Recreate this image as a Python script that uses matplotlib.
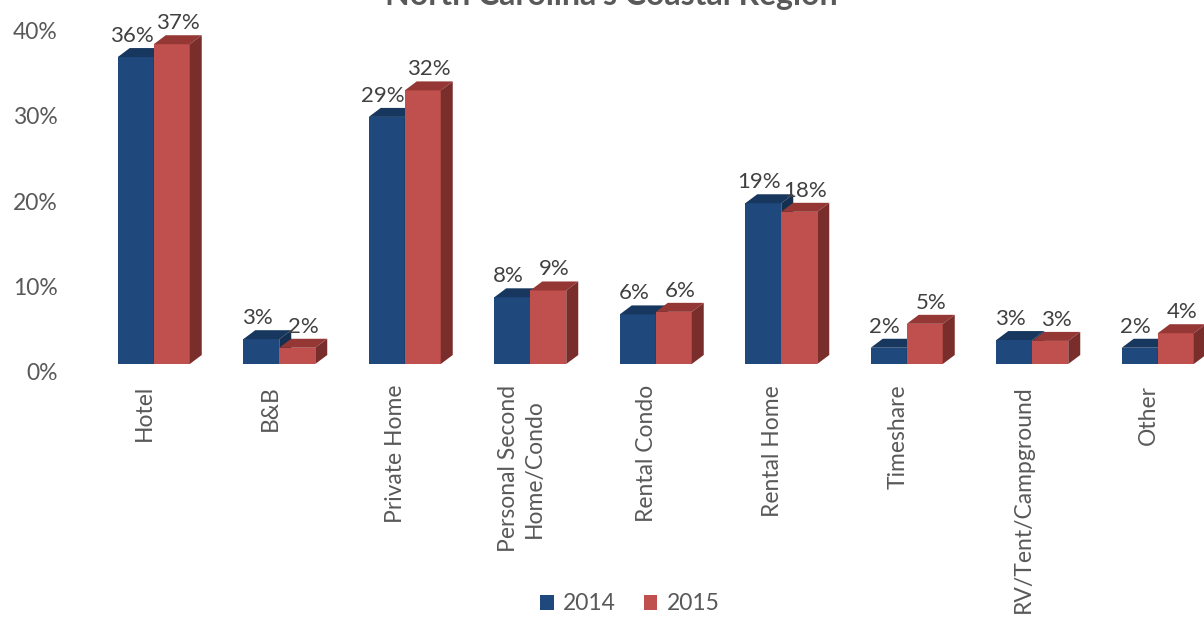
import matplotlib
matplotlib.use("Agg")
import matplotlib.pyplot as plt
from matplotlib.patches import Polygon, Patch
from matplotlib.transforms import ScaledTranslation

plt.rcParams['font.family'] = ['Lato', 'DejaVu Sans']

categories = ['Hotel', 'B&B', 'Private Home', 'Personal Second\nHome/Condo',
              'Rental Condo', 'Rental Home', 'Timeshare', 'RV/Tent/Campground', 'Other']
share_2014 = [35.9, 2.9, 28.9, 7.8, 5.8, 18.8, 1.9, 2.8, 1.9]
share_2015 = [37.4, 1.9, 32.0, 8.6, 6.1, 17.8, 4.7, 2.7, 3.6]
yticks = [0, 10, 20, 30, 40]

# front / top / side shades for the pseudo 3D boxes
blue = ('#1F497D', '#17375E', '#142F50')
red = ('#C0504D', '#943735', '#7A2E2C')

W, H = 1204, 627
fig = plt.figure(figsize=(W / 100, H / 100), dpi=100)

# axes placed in pixels: category pitch 125.5 px, 10% = 85.5 px
left_px, bottom_px, pitch = 91, 263, 125.5
ax = fig.add_axes([left_px / W, bottom_px / H, (W - left_px) / W, 342 / H])
ax.set_xlim(-0.5, -0.5 + (W - left_px) / pitch)
ax.set_ylim(0, 40)

px_x = 1 / pitch          # data units per pixel along x
px_y = 40 / 342           # data units per pixel along y
dx, dy = 12 * px_x, 9 * px_y
bw = 36 * px_x


def box(x0, h, shades):
    front, top, side = shades
    ax.add_patch(Polygon([(x0, 0), (x0 + bw, 0), (x0 + bw, h), (x0, h)],
                         closed=True, fc=front, ec='none', clip_on=False))
    ax.add_patch(Polygon([(x0, h), (x0 + bw, h), (x0 + bw + dx, h + dy), (x0 + dx, h + dy)],
                         closed=True, fc=top, ec='none', clip_on=False))
    ax.add_patch(Polygon([(x0 + bw, 0), (x0 + bw + dx, dy), (x0 + bw + dx, h + dy), (x0 + bw, h)],
                         closed=True, fc=side, ec='none', clip_on=False))


for i, (a, b) in enumerate(zip(share_2014, share_2015)):
    box(i - bw, a, blue)
    box(i, b, red)
    ax.text(i - bw / 2 - 4 * px_x, a + dy + 6 * px_y, f'{a:.0f}%', ha='center',
            va='baseline', fontsize=16, color='#404040', clip_on=False)
    ax.text(i + bw / 2 + 6 * px_x, b + dy + 6 * px_y, f'{b:.0f}%', ha='center',
            va='baseline', fontsize=16, color='#404040', clip_on=False)

for s in ax.spines.values():
    s.set_visible(False)
ax.tick_params(length=0)

ax.set_yticks(yticks)
ax.set_yticklabels([f'{t}%' for t in yticks], fontsize=16.5, color='#595959')
ax.tick_params(axis='y', pad=24)
for lab in ax.get_yticklabels():
    lab.set_transform(lab.get_transform() + ScaledTranslation(0, -0.08, fig.dpi_scale_trans))

ax.set_xticks(range(len(categories)))
ax.set_xticklabels(categories, rotation=90, fontsize=16.5, color='#595959',
                   linespacing=1.3)
ax.tick_params(axis='x', pad=15)
for lab in ax.get_xticklabels():
    lab.set_transform(lab.get_transform() + ScaledTranslation(-0.09, 0, fig.dpi_scale_trans))

fig.text(611 / W, 1 - 5 / H, "North Carolina's Coastal Region", ha='center',
         va='baseline', fontsize=23, fontweight='bold', color='#595959')

handles = [Patch(fc=blue[0], ec='none'), Patch(fc=red[0], ec='none')]
fig.legend(handles, ['2014', '2015'], loc='center', bbox_to_anchor=(630 / W, 23 / H),
           ncol=2, frameon=False, fontsize=16.5, labelcolor='#595959',
           handlelength=0.6, handleheight=0.6, handletextpad=0.4, columnspacing=1.2)

fig.savefig('out.png', dpi=100)
